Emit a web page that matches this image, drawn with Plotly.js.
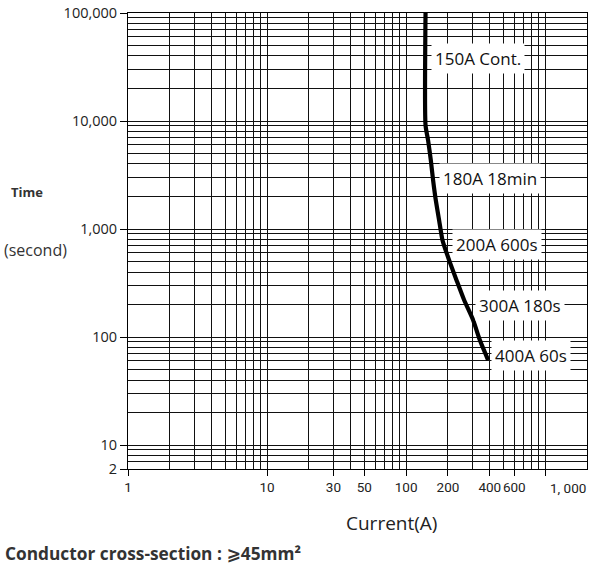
<!DOCTYPE html>
<html>
<head>
<meta charset="utf-8">
<script src="https://cdn.plot.ly/plotly-3.0.1.min.js"></script>
<style>
  html, body { margin: 0; padding: 0; background: #fff; }
  #chart { width: 608px; height: 567px; }
</style>
</head>
<body>
<div id="chart"></div>
<script>
// ---- data ----
const currentA = [138, 138, 143.9, 150.6, 156.4, 163.5, 172.7, 182.7, 203.9, 230.5, 261.4, 303.3, 339, 389];
const timeS    = [100000, 9140, 6640, 4340, 2830, 1850, 1210, 789, 515, 336, 220, 143.6, 93.8, 61.2];

const labelTexts   = ["150A Cont.", "180A 18min", "200A 600s", "300A 180s", "400A 60s"];
const labelCurrent = [150, 172, 213, 312, 407];
const labelTime    = [38100, 2960, 724, 194, 68];

const xTickVals = [1, 10, 30, 50, 100, 200, 400, 600, 1000];
const xTickText = ["1", "10", "30", "50", "100", "200", "400", "600", "1, 000"];
const yTickVals = [6, 10, 100, 1000, 10000, 100000];
const yTickText = ["2", "10", "100", "1,000", "10,000", "100,000"];

// ---- grid positions (log minor grid) ----
function logGrid(decades, mults) {
  const out = [];
  decades.forEach(d => mults.forEach(m => out.push(d * m)));
  return out;
}
const xMinor = logGrid([1, 10, 100], [1,2,3,4,5,6,7,8,9]).concat([1000]);
const yMinor = logGrid([10, 100, 1000, 10000], [1,2,3,4,5,6,7,8,9]).concat([7, 8, 9, 100000]);

const FONT = '"Open Sans", "Noto Sans", "DejaVu Sans", sans-serif';
const NARROW = 'Roboto, "Open Sans", sans-serif';

// In the reference the last x label ("1, 000") sits to the right of its tick,
// so it is drawn as an annotation next to that tick instead of centred on it.
const lastIdx = xTickText.length - 1;
const xTickShown = xTickText.map((t, i) => i === lastIdx ? '' : t);

const trace = {
  x: currentA, y: timeS, type: 'scatter', mode: 'lines',
  line: { color: '#000', width: 4.2, shape: 'spline', smoothing: 0.6 },
  hoverinfo: 'skip', showlegend: false
};

const W = 608, H = 567;
const mL = 128, mR = 21, mT = 13, mB = 98;
const pw = W - mL - mR, ph = H - mT - mB;
function px2paperX(px) { return (px - mL) / pw; }
function px2paperY(py) { return (H - mB - py) / ph; }

const annotations = labelTexts.map((t, i) => ({
  x: Math.log10(labelCurrent[i]), y: Math.log10(labelTime[i]),
  xref: 'x', yref: 'y', text: t, showarrow: false,
  xanchor: 'left', yanchor: 'middle',
  bgcolor: '#fff', borderpad: 3,
  font: { family: FONT, size: 17, color: '#111' }
}));

annotations.push(
  { x: Math.log10(xTickVals[lastIdx]), y: 0, xref: 'x', yref: 'paper',
    text: xTickText[lastIdx], showarrow: false, xanchor: 'left', yanchor: 'top',
    xshift: 3, yshift: -9,
    font: { family: NARROW, size: 13.5, color: '#222' } },
  { x: px2paperX(391), y: px2paperY(523), xref: 'paper', yref: 'paper',
    text: 'Current(A)', showarrow: false, xanchor: 'center', yanchor: 'middle',
    font: { family: FONT, size: 19, color: '#222' } },
  { x: px2paperX(27), y: px2paperY(192), xref: 'paper', yref: 'paper',
    text: '<b>Time</b>', showarrow: false, xanchor: 'center', yanchor: 'middle',
    font: { family: FONT, size: 13, color: '#333' } },
  { x: px2paperX(35), y: px2paperY(250), xref: 'paper', yref: 'paper',
    text: '(second)', showarrow: false, xanchor: 'center', yanchor: 'middle',
    font: { family: FONT, size: 16, color: '#333' } },
  { x: px2paperX(3), y: px2paperY(553), xref: 'paper', yref: 'paper',
    text: '<b>Conductor cross-section : ⩾45mm²</b>', showarrow: false, xanchor: 'left', yanchor: 'middle',
    font: { family: FONT, size: 17.3, color: '#333' } }
);

const layout = {
  width: W, height: H,
  margin: { l: mL, r: mR, t: mT, b: mB, pad: 0 },
  paper_bgcolor: '#fff', plot_bgcolor: '#fff',
  showlegend: false,
  xaxis: {
    type: 'log', range: [0, Math.log10(2000)],
    tickmode: 'array', tickvals: xTickVals, ticktext: xTickShown, tickangle: 0,
    ticks: 'outside', ticklen: 6, tickwidth: 1, tickcolor: '#000',
    showgrid: true, gridcolor: '#111', gridwidth: 1,
    showline: true, linecolor: '#000', linewidth: 1, mirror: true,
    zeroline: false,
    tickfont: { family: NARROW, size: 13.5, color: '#222' },
    minor: { tickmode: 'array', tickvals: xMinor, showgrid: true, gridcolor: '#111', gridwidth: 1, ticks: '' }
  },
  yaxis: {
    type: 'log', range: [Math.log10(6), 5],
    tickmode: 'array', tickvals: yTickVals, ticktext: yTickText,
    ticks: 'outside', ticklen: 7, tickwidth: 1, tickcolor: '#000',
    showgrid: true, gridcolor: '#111', gridwidth: 1,
    showline: true, linecolor: '#000', linewidth: 1, mirror: true,
    zeroline: false,
    tickfont: { family: FONT, size: 14.5, color: '#222' },
    minor: { tickmode: 'array', tickvals: yMinor, showgrid: true, gridcolor: '#111', gridwidth: 1, ticks: '' }
  },
  annotations: annotations
};

Plotly.newPlot('chart', [trace], layout, { staticPlot: true, displayModeBar: false });
</script>
</body>
</html>
